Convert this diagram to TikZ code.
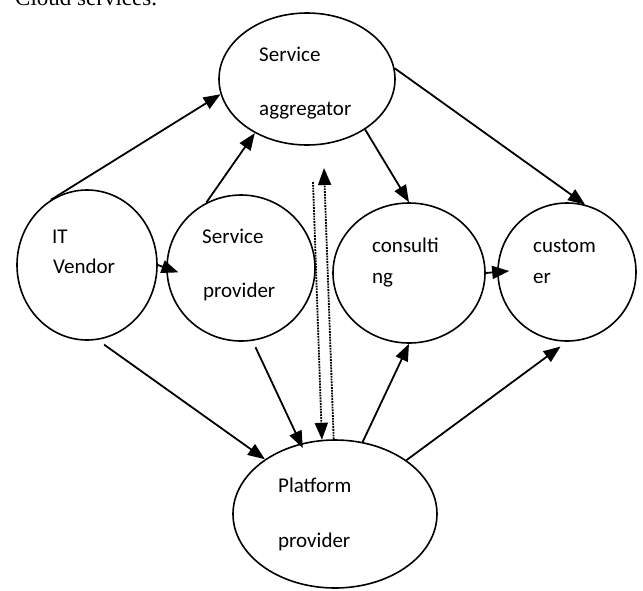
\documentclass[tikz,border=0pt]{standalone}
\usepackage{fontspec}
\usetikzlibrary{shapes.geometric,arrows.meta}
\newfontfamily\lblfont{Carlito}
\newfontfamily\capfont{Liberation Serif}

\begin{document}
\begin{tikzpicture}[x=1pt,y=-1pt,
% common options for the bubbles:
bubble/.style = {ellipse, draw, line width=1.6pt, inner sep=0},
% common options for the words inside:
word/.style = {anchor=base west, inner sep=0,
            font=\lblfont\fontsize{21}{25}\selectfont},
% common options for the arrows:
link/.style = {line width=1.8pt, -{Triangle[length=17pt,width=13pt]}},
flow/.style = {line width=1.8pt, densely dotted, -{Triangle[length=17pt,width=13pt]}}]
\useasboundingbox (0,0) rectangle (643,590);
\node[anchor=base west, inner sep=0, font=\capfont\fontsize{23}{27}\selectfont] (cap) at (15,5) {Cloud services.};
\node[bubble, minimum width=176pt, minimum height=132pt] (agg) at (307,79) {};
\node[bubble, minimum width=140pt, minimum height=150pt] (itv) at (87,265) {};
\node[bubble, minimum width=148pt, minimum height=146pt] (sp) at (241,268) {};
\node[bubble, minimum width=152pt, minimum height=140pt] (con) at (409,273) {};
\node[bubble, minimum width=138pt, minimum height=138pt] (cus) at (567,272) {};
\node[bubble, minimum width=204pt, minimum height=148pt] (plat) at (335,514) {};
\node[word] (agg1) at (259,61) {Service};
\node[word] (agg2) at (259,115) {aggregator};
\node[word] (itv1) at (52,243) {IT};
\node[word] (itv2) at (53,273) {Vendor};
\node[word] (sp1) at (202,243) {Service};
\node[word] (sp2) at (203,297) {provider};
\node[word] (con1) at (372,252) {consulti};
\node[word] (con2) at (372,283) {ng};
\node[word] (cus1) at (533,252) {custom};
\node[word] (cus2) at (533,283) {er};
\node[word] (plat1) at (278,492) {Platform};
\node[word] (plat2) at (278,547) {provider};
\coordinate (dn) at (313,182);
\coordinate (up) at (324,168);
\draw[link] (itv.119) -- (agg.190);
\draw[link] (sp.118) -- (agg.226);
\draw[link] (agg.-41) -- (con.north);
\draw[link] (agg.7) -- (cus.75);
\draw[link, shorten >=-13pt] (itv.east) -- (sp.west);
\draw[link, shorten >=-12pt] (con.east) -- (cus.west);
\draw[link, shorten <=8pt] (itv.-82) -- (plat.142);
\draw[link, shorten <=7pt, shorten >=-5pt] (sp.-81) -- (plat.116);
\draw[link] (plat.69) -- (con.south);
\draw[link, shorten >=8pt] (plat.37) -- (cus.south);
\draw[flow] (dn) -- (plat.100);
\draw[flow] (plat.91) -- (up);
\end{tikzpicture}
\end{document}
